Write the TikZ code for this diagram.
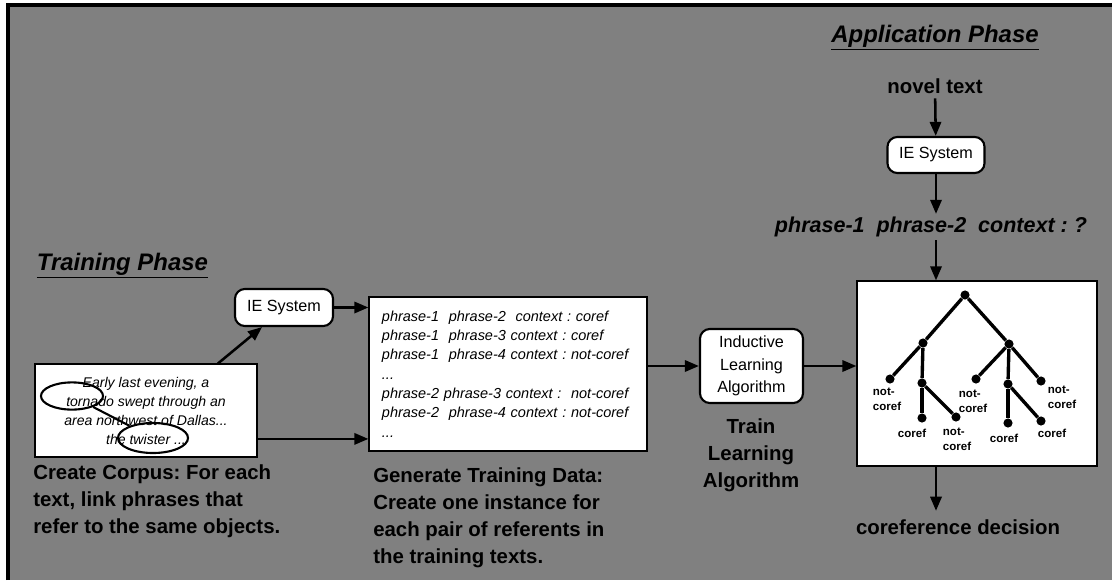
\documentclass[tikz,border=0pt]{standalone}
\usepackage{fontspec}
\setmainfont{Liberation Sans}
\usetikzlibrary{positioning,shapes.geometric,arrows.meta}
\frenchspacing

\begin{document}
\begin{tikzpicture}[
    x=0.025cm, y=-0.025cm,
    stage/.style={rectangle, draw, rounded corners=7pt, fill=white, line width=1.5pt, align=center, font=\fontsize{11.5}{16}\selectfont},
    databox/.style={rectangle, draw, fill=white, line width=0.8pt},
    caption/.style={font=\fontsize{14.5}{19.2}\selectfont\bfseries, align=left, inner sep=0pt},
    phase/.style={font=\fontsize{17}{20}\selectfont\bfseries\itshape},
    flow/.style={-{Triangle[length=10pt,width=8pt]}, line width=1.8pt},
    mention/.style={ellipse, draw, line width=1.5pt, inner sep=0pt},
    knot/.style={circle, fill, inner sep=0pt, minimum size=6.5pt},
    branch/.style={line width=2.4pt},
    leaflabel/.style={font=\fontsize{8.2}{10.7}\selectfont\bfseries, align=left, inner sep=0pt}
]
\useasboundingbox (0,0) rectangle (1112,580);

% background
\fill[gray] (8,5) rectangle (1112,580);
\draw[line width=2.2pt] (8,580) -- (8,5) -- (1112,5);

% training phase
\node[phase, anchor=base west] (trainphase) at (32,270) {\underline{Training Phase}};

\node[databox, minimum width=5.55cm, minimum height=2.325cm, align=center,
      font=\fontsize{10}{13.5}\selectfont\itshape] (corpus) at (146,410.5)
    {Early last evening, a\\tornado swept through an\\area northwest of Dallas...\\the twister ...};
\node[mention, minimum width=1.55cm, minimum height=0.68cm] (tornado) at (72,396) {};
\node[mention, minimum width=1.75cm, minimum height=0.75cm] (twister) at (153,438) {};
\draw[line width=1.5pt] (tornado) -- (twister);

\node[caption, anchor=north west] (corpuscap) at (33,464)
    {Create Corpus: For each\\text, link phrases that\\refer to the same objects.};

\node[stage, minimum width=2.45cm, minimum height=0.925cm] (ieA) at (284,307.5) {IE System};

\node[databox, minimum width=6.95cm, minimum height=3.85cm, text width=6.3cm, inner xsep=0.325cm,
      align=left, font=\fontsize{10.3}{13.7}\selectfont\itshape] (data) at (508,374)
    {phrase-1~ phrase-2~ context : coref\\
     phrase-1~ phrase-3 context : coref\\
     phrase-1~ phrase-4 context : not-coref\\
     ...\\
     phrase-2 phrase-3 context :~ not-coref\\
     phrase-2~ phrase-4 context : not-coref\\
     ...};

\node[caption, anchor=north west] (datacap) at (373,467)
    {Generate Training Data:\\Create one instance for\\each pair of referents in\\the training texts.};

\node[stage, minimum width=2.575cm, minimum height=1.85cm] (induct) at (751.5,366)
    {Inductive\\Learning\\Algorithm};
\node[caption, align=center, anchor=north] (traincap) at (751,418) {Train\\Learning\\Algorithm};

% application phase
\node[phase, anchor=base] (appphase) at (935,42) {\underline{Application Phase}};
\node[font=\fontsize{14.5}{19}\selectfont\bfseries] (novel) at (935,86) {novel text};
\node[stage, minimum width=2.425cm, minimum height=0.9cm] (ieB) at (936,155) {IE System};
\node[font=\fontsize{15.3}{19}\selectfont\bfseries\itshape, inner sep=2pt] (query) at (931,227)
    {phrase-1~ phrase-2~ context : ?};

\node[databox, minimum width=6cm, minimum height=4.625cm] (tree) at (977,373.5) {};
\node[font=\fontsize{14.5}{19}\selectfont\bfseries, inner sep=6pt] (decision) at (958,527)
    {coreference decision};

% decision tree
\node[knot] (r) at (965,295) {};
\node[knot] (a) at (923,343) {};
\node[knot] (b) at (1009,344) {};
\node[knot] (a1) at (890,379) {};
\node[knot] (a2) at (922,383) {};
\node[knot] (a21) at (922,418) {};
\node[knot] (a22) at (956,417) {};
\node[knot] (b1) at (976,379) {};
\node[knot] (b2) at (1008,384) {};
\node[knot] (b3) at (1041,381) {};
\node[knot] (b21) at (1008,423) {};
\node[knot] (b22) at (1041,421) {};
\foreach \u/\v in {r/a, r/b, a/a1, a/a2, a2/a21, a2/a22, b/b1, b/b2, b/b3, b2/b21, b2/b22}
    \draw[branch] (\u) -- (\v);

\node[leaflabel] (la1) at (887,399) {not-\\coref};
\node[leaflabel] (la21) at (912,433) {coref};
\node[leaflabel] (la22) at (957,439) {not-\\coref};
\node[leaflabel] (lb1) at (973,401) {not-\\coref};
\node[leaflabel] (lb21) at (1004,438) {coref};
\node[leaflabel] (lb22) at (1052,433) {coref};
\node[leaflabel] (lb3) at (1062,397) {not-\\coref};

% connectors
\draw[flow] ([xshift=1.8cm]corpus.north) -- ([xshift=-0.55cm]ieA.south);
\draw[flow] (ieA.east) -- (ieA.east -| data.west);
\draw[flow] ([yshift=-0.71cm]corpus.east) -- ([yshift=-0.71cm]corpus.east -| data.west);
\draw[flow] (data.east |- induct.west) -- (induct.west);
\draw[flow] (induct.east) -- (induct.east -| tree.west);
\draw[flow] (novel) -- (ieB);
\draw[flow] (ieB) -- (ieB |- query.north);
\draw[flow] (ieB |- query.south) -- (ieB |- tree.north);
\draw[flow] (tree.south -| ieB) -- (decision.north -| ieB);

\end{tikzpicture}
\end{document}
